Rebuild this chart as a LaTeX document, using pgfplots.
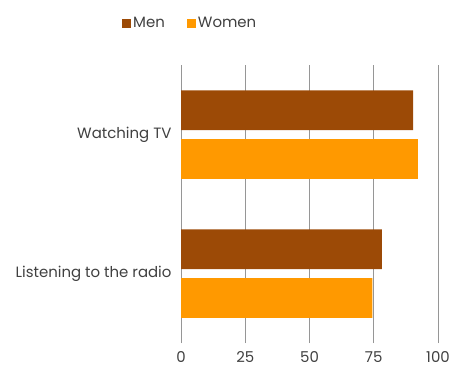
\documentclass[border=0pt]{standalone}
\usepackage{pgfplots}
\pgfplotsset{compat=1.18}
\usepackage{fontspec}
\setmainfont{Poppins}
\definecolor{men}{RGB}{156,74,6}
\definecolor{women}{RGB}{255,153,0}
\definecolor{txt}{RGB}{64,64,64}
\definecolor{gridc}{RGB}{150,150,150}
\begin{document}
\begin{tikzpicture}
\useasboundingbox (0,0) rectangle (452bp,367bp);
\begin{axis}[
  at={(181bp,24bp)}, anchor=south west,
  scale only axis, width=257bp, height=278bp,
  xbar, bar width=0.286,
  xmin=0, xmax=100, ymin=-0.5, ymax=1.5,
  xtick={0,25,50,75,100},
  ytick={0,1}, yticklabels={Listening to the radio, Watching TV},
  axis line style={draw=none},
  major tick length=0pt,
  xmajorgrids, ymajorgrids=false,
  x grid style={draw=gridc, line width=1bp},
  tick label style={font=\fontsize{15}{17}\selectfont, text=txt},
  /pgf/number format/assume math mode=true,
  xticklabel style={yshift=-7bp, inner sep=1bp},
  yticklabel style={xshift=-6bp},
  legend style={at={(-0.241,1.15)}, anchor=west, draw=none, fill=none,
    legend columns=2, font=\fontsize{15}{17}\selectfont, text=txt,
    /tikz/every even column/.append style={column sep=20bp},
    /tikz/every odd column/.append style={inner xsep=1bp}},
  legend image code/.code={\fill[#1] (0bp,-4.5bp) rectangle (9bp,4.5bp);},
  legend cell align=left,
]
\addplot[fill=men, draw=none, bar shift=0.174] coordinates {(78.2,0) (90.3,1)};
\addplot[fill=women, draw=none, bar shift=-0.177] coordinates {(74.5,0) (92.2,1)};
\legend{Men, Women}
\end{axis}
\end{tikzpicture}
\end{document}
